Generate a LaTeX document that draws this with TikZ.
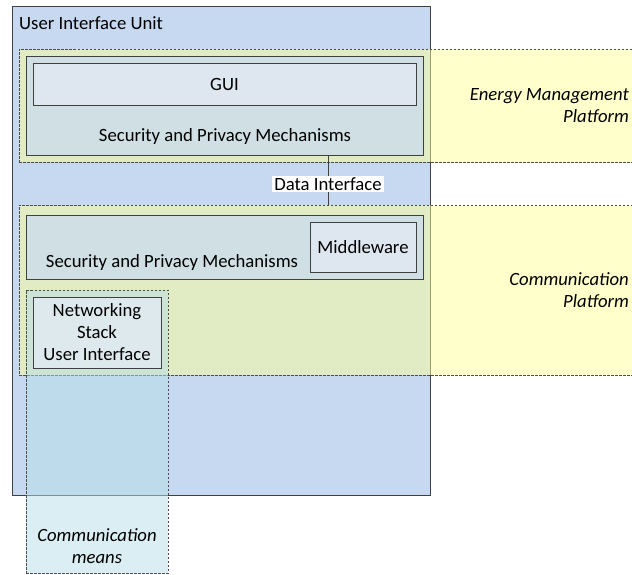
\documentclass[tikz,border=0pt]{standalone}
\usepackage{fontspec}
\setmainfont{Carlito}
\begin{document}
\begin{tikzpicture}[x=1pt,y=-1pt,
  every node/.style={font=\fontsize{18.7}{22}\selectfont, text=black},
  frame/.style={draw=black!75, line width=1pt, inner sep=0pt, outer sep=0pt, anchor=north west},
  band/.style={draw=black!70, line width=0.8pt, dash pattern=on 2.5pt off 1.5pt,
    inner sep=0pt, outer sep=0pt, anchor=north west, fill opacity=0.5, draw opacity=1},
  lbl/.style={font=\fontsize{18.7}{22}\selectfont\itshape, align=right, anchor=east}]
\clip (0,0) rectangle (632,574);
\useasboundingbox (0,0) rectangle (632,574);

% unit housing
\node[frame, fill={rgb,255:red,198;green,217;blue,241}, minimum width=418, minimum height=489] (unit) at (12,6) {};
\node[anchor=west, inner sep=0pt] (unitlbl) at (19,23) {User Interface Unit};

% platform bands
\node[band, fill={rgb,255:red,255;green,255;blue,153}, minimum width=630, minimum height=113] (emp) at (19,49) {};
\node[band, fill={rgb,255:red,255;green,255;blue,153}, minimum width=630, minimum height=170] (cpf) at (19,205) {};

% communication means column
\node[band, fill={rgb,255:red,181;green,221;blue,231}, minimum width=142, minimum height=283] (cm) at (26,290) {};

% upper security layer and GUI
\node[frame, fill={rgb,255:red,208;green,223;blue,227}, minimum width=397, minimum height=99] (spm1) at (26,56) {};
\node[frame, fill={rgb,255:red,222;green,231;blue,239}, minimum width=383, minimum height=42] (gui) at (33,63) {};
\node (guilbl) at (gui.center) {GUI};
\node (spm1lbl) at (225,137) {Security and Privacy Mechanisms};

% lower security layer and middleware
\node[frame, fill={rgb,255:red,208;green,223;blue,227}, minimum width=397, minimum height=64] (spm2) at (26,215) {};
\node[frame, fill={rgb,255:red,222;green,231;blue,239}, minimum width=106, minimum height=50] (mw) at (310,222) {};
\node (mwlbl) at (mw.center) {Middleware};
\node (spm2lbl) at (172,263) {Security and Privacy Mechanisms};

% networking stack
\node[frame, fill={rgb,255:red,222;green,233;blue,238}, minimum width=128, minimum height=71] (ns) at (33,297) {};
\node[align=center] (nslbl) at (ns.center) {Networking\\Stack\\User Interface};

% data interface between the two layers
\coordinate (dix) at (328,184);
\draw[draw=black!75, line width=0.8pt] (spm1.south -| dix) -- (cpf.north -| dix);
\node[fill=white, inner sep=2pt] (di) at (dix) {Data Interface};

% band captions
\node[lbl, inner sep=0pt] (emplbl) at (629,106) {Energy Management\\Platform};
\node[lbl, inner sep=0pt] (cpflbl) at (629,290) {Communication\\Platform};
\node[font=\fontsize{18.7}{22}\selectfont\itshape, align=center] (cmlbl) at (97,546) {Communication\\means};
\end{tikzpicture}
\end{document}
